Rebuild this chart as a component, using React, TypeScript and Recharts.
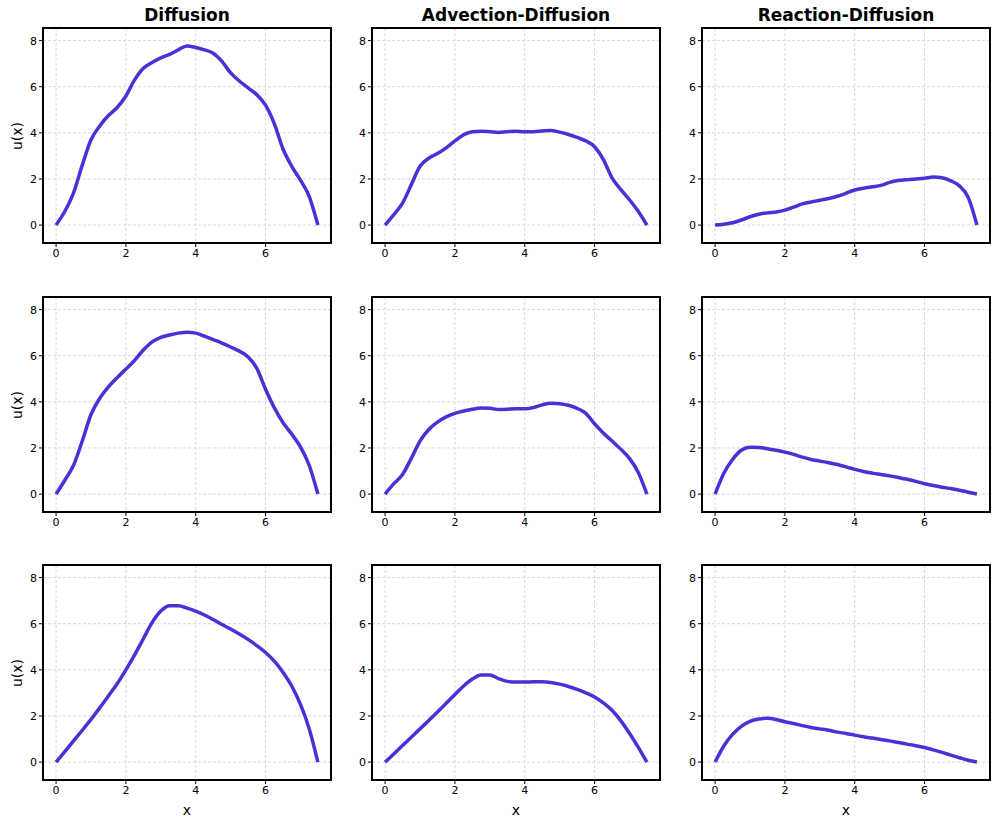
import React from "react"
import { LineChart, Line, XAxis, YAxis, CartesianGrid, ReferenceArea } from "recharts"

// x grid shared by every panel
const xs = [
  0, 0.25, 0.5, 0.75, 1, 1.25, 1.5, 1.75, 2, 2.25, 2.5, 2.75, 3, 3.25, 3.5, 3.75,
  4, 4.25, 4.5, 4.75, 5, 5.25, 5.5, 5.75, 6, 6.25, 6.5, 6.75, 7, 7.25, 7.5,
]

const titles = ["Diffusion", "Advection-Diffusion", "Reaction-Diffusion"]
const xTicks = [0, 2, 4, 6]
const yTicks = [0, 2, 4, 6, 8]

// row 1
const diff1 = [0, 0.6, 1.4, 2.6, 3.7, 4.3, 4.75, 5.1, 5.6, 6.3, 6.8, 7.05, 7.25, 7.4, 7.6, 7.77, 7.7, 7.6, 7.45, 7.1, 6.6, 6.25, 5.95, 5.65, 5.2, 4.4, 3.3, 2.55, 1.95, 1.25, 0]
const adv1 = [0, 0.45, 0.95, 1.75, 2.55, 2.9, 3.1, 3.35, 3.65, 3.92, 4.05, 4.07, 4.05, 4.02, 4.05, 4.07, 4.05, 4.05, 4.08, 4.1, 4.03, 3.93, 3.8, 3.65, 3.4, 2.85, 2.05, 1.55, 1.1, 0.6, 0]
const react1 = [0, 0.04, 0.1, 0.22, 0.36, 0.47, 0.53, 0.57, 0.65, 0.78, 0.92, 1.0, 1.08, 1.15, 1.25, 1.38, 1.52, 1.6, 1.66, 1.72, 1.85, 1.93, 1.97, 2.0, 2.03, 2.08, 2.05, 1.92, 1.7, 1.2, 0]

// row 2
const diff2 = [0, 0.6, 1.25, 2.3, 3.45, 4.15, 4.65, 5.05, 5.42, 5.8, 6.25, 6.6, 6.8, 6.9, 6.98, 7.02, 6.98, 6.85, 6.7, 6.55, 6.38, 6.2, 5.95, 5.45, 4.55, 3.75, 3.1, 2.6, 2.05, 1.25, 0]
const adv2 = [0, 0.45, 0.85, 1.55, 2.3, 2.8, 3.12, 3.35, 3.5, 3.6, 3.68, 3.73, 3.72, 3.67, 3.68, 3.7, 3.7, 3.75, 3.87, 3.94, 3.92, 3.85, 3.72, 3.5, 3.05, 2.65, 2.3, 1.95, 1.55, 0.95, 0]
const react2 = [0, 0.9, 1.5, 1.9, 2.03, 2.02, 1.97, 1.9, 1.82, 1.72, 1.6, 1.5, 1.43, 1.36, 1.28, 1.18, 1.07, 0.98, 0.91, 0.85, 0.79, 0.72, 0.64, 0.55, 0.45, 0.37, 0.3, 0.24, 0.17, 0.08, 0]

// row 3
const diff3 = [0, 0.45, 0.92, 1.38, 1.85, 2.35, 2.87, 3.4, 4.0, 4.65, 5.35, 6.05, 6.55, 6.78, 6.78, 6.68, 6.55, 6.38, 6.18, 5.97, 5.77, 5.55, 5.32, 5.05, 4.75, 4.38, 3.9, 3.3, 2.5, 1.45, 0]
const adv3 = [0, 0.35, 0.72, 1.08, 1.44, 1.8, 2.17, 2.55, 2.93, 3.3, 3.6, 3.78, 3.78, 3.62, 3.5, 3.47, 3.47, 3.48, 3.48, 3.45, 3.38, 3.28, 3.15, 3.0, 2.82, 2.57, 2.25, 1.8, 1.25, 0.65, 0]
const react3 = [0, 0.7, 1.2, 1.55, 1.77, 1.87, 1.9, 1.85, 1.75, 1.67, 1.58, 1.5, 1.44, 1.38, 1.3, 1.24, 1.17, 1.1, 1.04, 0.98, 0.92, 0.85, 0.78, 0.71, 0.63, 0.53, 0.42, 0.3, 0.19, 0.08, 0]

const rows = [
  [diff1, adv1, react1],
  [diff2, adv2, react2],
  [diff3, adv3, react3],
]

const X_MIN = -0.375
const X_MAX = 7.875
const Y_MIN = -0.777
const Y_MAX = 8.547

const plotLefts = [43, 372, 702]
const plotTops = [28, 297, 565]
const PW = 288
const PH = 215
const FONT = "DejaVu Sans, sans-serif"

function Panel({ values, left, top }: { values: number[]; left: number; top: number }) {
  const data = xs.map((x, i) => ({ x, u: values[i] }))
  return (
    <div style={{ position: "absolute", left: left - 40, top: top - 10 }}>
      <LineChart width={PW + 50} height={PH + 40} data={data} margin={{ top: 10, right: 10, left: 10, bottom: 0 }}>
        <CartesianGrid stroke="#cfcfcf" strokeDasharray="3 2" strokeWidth={0.8} />
        <XAxis
          dataKey="x"
          type="number"
          domain={[X_MIN, X_MAX]}
          ticks={xTicks}
          allowDataOverflow
          axisLine={false}
          tickSize={4}
          tickLine={{ stroke: "#000" }}
          tick={{ fill: "#000", fontSize: 11, fontFamily: FONT }}
          height={30}
        />
        <YAxis
          type="number"
          domain={[Y_MIN, Y_MAX]}
          ticks={yTicks}
          allowDataOverflow
          axisLine={false}
          tickSize={4}
          tickLine={{ stroke: "#000" }}
          tick={{ fill: "#000", fontSize: 11, fontFamily: FONT }}
          width={30}
        />
        <Line
          type="monotone"
          dataKey="u"
          stroke="#4632d6"
          strokeWidth={3.5}
          dot={false}
          isAnimationActive={false}
        />
        <ReferenceArea x1={X_MIN} x2={X_MAX} y1={Y_MIN} y2={Y_MAX} fill="none" stroke="#000" strokeWidth={2} />
      </LineChart>
    </div>
  )
}

export default function App() {
  return (
    <div style={{ position: "absolute", left: 0, top: 0, width: 997, height: 827, background: "#fff", fontFamily: FONT }}>
      {titles.map((t, c) => (
        <div
          key={t}
          style={{
            position: "absolute",
            left: plotLefts[c],
            width: PW,
            top: 5,
            textAlign: "center",
            fontSize: 17,
            fontWeight: "bold",
          }}
        >
          {t}
        </div>
      ))}
      {rows.map((row, r) =>
        row.map((vals, c) => <Panel key={`${r}-${c}`} values={vals} left={plotLefts[c]} top={plotTops[r]} />)
      )}
      {plotTops.map((t, r) => (
        <div
          key={`yl-${r}`}
          style={{
            position: "absolute",
            left: 17 - 30,
            top: t + PH / 2 - 10,
            width: 60,
            height: 20,
            textAlign: "center",
            fontSize: 14,
            lineHeight: "20px",
            transform: "rotate(-90deg)",
          }}
        >
          u(x)
        </div>
      ))}
      {plotLefts.map((l, c) => (
        <div
          key={`xl-${c}`}
          style={{
            position: "absolute",
            left: l,
            width: PW,
            top: 800,
            textAlign: "center",
            fontSize: 14,
            lineHeight: "20px",
          }}
        >
          x
        </div>
      ))}
    </div>
  )
}
